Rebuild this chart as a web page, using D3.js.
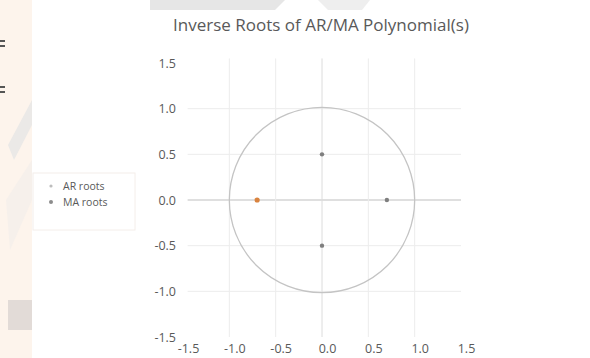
<!DOCTYPE html>
<html>
<head>
<meta charset="utf-8">
<script src="https://cdn.jsdelivr.net/npm/d3@7/dist/d3.min.js"></script>
<style>
  html, body { margin: 0; padding: 0; background: #fff; }
  svg { display: block; font-family: "Open Sans", "Liberation Sans", sans-serif; }
</style>
</head>
<body>
<svg id="chart" width="590" height="358"></svg>
<script>
const title = 'Inverse Roots of AR/MA Polynomial(s)'
const seriesNames = ['AR roots', 'MA roots']
const arRe = [-0.7]
const arIm = [0]
const maRe = [0, 0, 0.7]
const maIm = [0.5, -0.5, 0]
const tickValues = [-1.5, -1.0, -0.5, 0.0, 0.5, 1.0, 1.5]
const gridValues = [-1.0, -0.5, 0.0, 0.5, 1.0]

const svg = d3.select('#chart')
const W = 590, H = 358
const fmt = d => d.toFixed(1)

// faint photo backdrop behind the chart card
const bg = svg.append('g')
bg.append('rect').attr('x', 0).attr('y', 0).attr('width', W).attr('height', H).attr('fill', '#fff')
bg.append('rect').attr('x', 0).attr('y', 0).attr('width', 32).attr('height', H).attr('fill', '#fdf4ec')
bg.append('path').attr('d', 'M8,145 L32,100 L32,125 L14,160 Z').attr('fill', '#ebe9e7')
bg.append('path').attr('d', 'M6,200 L32,160 L32,200 L10,250 Z').attr('fill', '#f6f0eb')
bg.append('rect').attr('x', 8).attr('y', 300).attr('width', 24).attr('height', 30).attr('fill', '#e2dbd7')
bg.append('path').attr('d', 'M150,0 L285,0 L275,10 L150,10 Z').attr('fill', '#e6e6e6')
bg.append('path').attr('d', 'M318,0 L370,0 L362,10 L328,10 Z').attr('fill', '#eeeeee')
bg.append('rect').attr('x', 32).attr('y', 10).attr('width', W - 32).attr('height', H - 10).attr('fill', '#fff')
bg.append('rect').attr('x', 0).attr('y', 40).attr('width', 5).attr('height', 2).attr('fill', '#555')
bg.append('rect').attr('x', 0).attr('y', 45).attr('width', 5).attr('height', 2).attr('fill', '#555')
bg.append('rect').attr('x', 0).attr('y', 86).attr('width', 5).attr('height', 2).attr('fill', '#555')
bg.append('rect').attr('x', 0).attr('y', 91).attr('width', 5).attr('height', 2).attr('fill', '#555')

const x = d3.scaleLinear().domain([-1.5, 1.5]).range([183, 461])
const y = d3.scaleLinear().domain([-1.5, 1.5]).range([337, 63])

svg.append('text')
  .attr('x', 321).attr('y', 31)
  .attr('text-anchor', 'middle')
  .attr('font-size', 17)
  .attr('fill', '#595959')
  .text(title)

// gridlines
const grid = svg.append('g')
grid.selectAll('line.h').data(gridValues).enter().append('line')
  .attr('x1', x(-1.45)).attr('x2', x(1.5))
  .attr('y1', d => y(d)).attr('y2', d => y(d))
  .attr('stroke', d => d === 0 ? '#bfbfbf' : '#ececec')
  .attr('stroke-width', 1)
grid.selectAll('line.v').data(gridValues).enter().append('line')
  .attr('y1', y(1.55)).attr('y2', y(-1.5))
  .attr('x1', d => x(d)).attr('x2', d => x(d))
  .attr('stroke', d => d === 0 ? '#dcdcdc' : '#ececec')
  .attr('stroke-width', 1)

// unit circle
svg.append('circle')
  .attr('cx', x(0)).attr('cy', y(0))
  .attr('r', x(1) - x(0))
  .attr('fill', 'none')
  .attr('stroke', '#c4c4c4')
  .attr('stroke-width', 1.3)

// axes tick labels
const yAxis = d3.axisLeft(y).tickValues(tickValues).tickFormat(fmt).tickSize(0)
svg.append('g').attr('transform', 'translate(179,0)').call(yAxis)
  .call(g => g.select('.domain').remove())
  .call(g => g.selectAll('text').attr('font-size', 12.5).attr('fill', '#595959')
    .attr('font-family', '"Open Sans", "Liberation Sans", sans-serif'))

const xAxis = d3.axisBottom(x).tickValues(tickValues).tickFormat(fmt).tickSize(0)
svg.append('g').attr('transform', 'translate(5,341)').call(xAxis)
  .call(g => g.select('.domain').remove())
  .call(g => g.selectAll('text').attr('font-size', 12.5).attr('fill', '#595959')
    .attr('font-family', '"Open Sans", "Liberation Sans", sans-serif'))

// roots
const ar = arRe.map((re, i) => ({ re, im: arIm[i] }))
const ma = maRe.map((re, i) => ({ re, im: maIm[i] }))
svg.append('g').selectAll('circle').data(ma).enter().append('circle')
  .attr('cx', d => x(d.re)).attr('cy', d => y(d.im))
  .attr('r', 2.2).attr('fill', '#7f7f7f')
svg.append('g').selectAll('circle').data(ar).enter().append('circle')
  .attr('cx', d => x(d.re)).attr('cy', d => y(d.im))
  .attr('r', 2.6).attr('fill', '#d9833f')

// legend
const legend = svg.append('g').attr('transform', 'translate(33,173)')
legend.append('rect').attr('width', 102).attr('height', 57)
  .attr('fill', '#fff').attr('stroke', '#f4eeea')
const colors = ['#bdbdbd', '#8c8c8c']
seriesNames.forEach((name, i) => {
  const row = legend.append('g').attr('transform', `translate(0,${13 + i * 16})`)
  row.append('circle').attr('cx', 18).attr('cy', 0).attr('r', i === 0 ? 1.6 : 2).attr('fill', colors[i])
  row.append('text').attr('x', 30).attr('y', 4)
    .attr('font-size', 10.5).attr('fill', '#595959').text(name)
})
</script>
</body>
</html>
